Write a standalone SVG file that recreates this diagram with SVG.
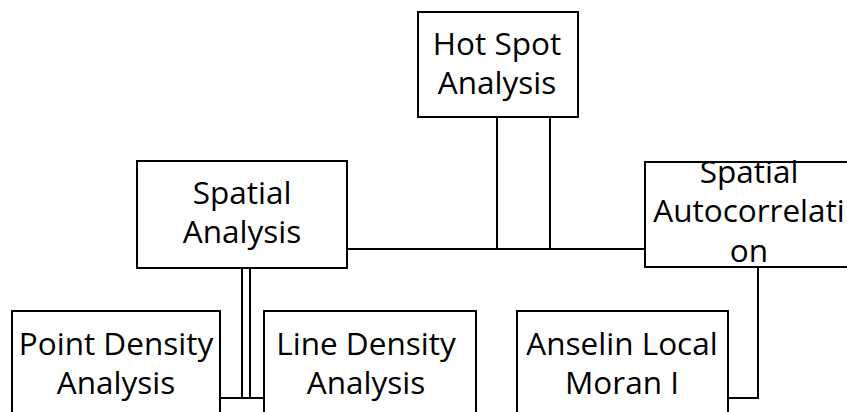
<svg xmlns="http://www.w3.org/2000/svg" width="847" height="412" viewBox="0 0 847 412">
  <style>
    .box { fill: #ffffff; stroke: #000000; stroke-width: 2; }
    .link { fill: none; stroke: #000000; stroke-width: 2; }
    .label { font-family: "Open Sans", "Noto Sans", sans-serif; font-size: 31.5px; fill: #000000; text-anchor: middle; }
  </style>
  <rect width="847" height="412" fill="#ffffff"/>

  <!-- connectors -->
  <g id="connectors">
    <!-- Hot Spot Analysis down to the shared bus -->
    <line class="link" x1="497" y1="117" x2="497" y2="249"/>
    <line class="link" x1="550" y1="117" x2="550" y2="249"/>
    <!-- bus between Spatial Analysis and Spatial Autocorrelation -->
    <line class="link" x1="347" y1="249" x2="645" y2="249"/>
    <!-- Spatial Analysis down to the density nodes -->
    <line class="link" x1="242" y1="268" x2="242" y2="398"/>
    <line class="link" x1="250" y1="268" x2="250" y2="398"/>
    <line class="link" x1="220" y1="398" x2="264" y2="398"/>
    <!-- Spatial Autocorrelation to Anselin Local Moran I -->
    <polyline class="link" points="758,267 758,398 728,398"/>
  </g>

  <g id="node-hotspot">
    <rect class="box" x="418" y="12" width="160" height="105"/>
    <text class="label"><tspan x="497" y="55">Hot Spot</tspan><tspan x="497" y="94">Analysis</tspan></text>
  </g>

  <g id="node-spatial-analysis">
    <rect class="box" x="137" y="161" width="210" height="107"/>
    <text class="label"><tspan x="242" y="204">Spatial</tspan><tspan x="242" y="243">Analysis</tspan></text>
  </g>

  <g id="node-spatial-autocorrelation">
    <rect class="box" x="645" y="162" width="220" height="105"/>
    <text class="label"><tspan x="749" y="183">Spatial</tspan><tspan x="749" y="222">Autocorrelati</tspan><tspan x="749" y="262">on</tspan></text>
  </g>

  <g id="node-point-density">
    <rect class="box" x="12" y="311" width="208" height="120"/>
    <text class="label"><tspan x="116" y="354.5">Point Density</tspan><tspan x="116" y="393.5">Analysis</tspan></text>
  </g>

  <g id="node-line-density">
    <rect class="box" x="264" y="311" width="212" height="120"/>
    <text class="label"><tspan x="366" y="354.5">Line Density</tspan><tspan x="366" y="393.5">Analysis</tspan></text>
  </g>

  <g id="node-anselin">
    <rect class="box" x="517" y="311" width="211" height="120"/>
    <text class="label"><tspan x="622" y="354.5">Anselin Local</tspan><tspan x="622" y="393.5">Moran I</tspan></text>
  </g>
</svg>
